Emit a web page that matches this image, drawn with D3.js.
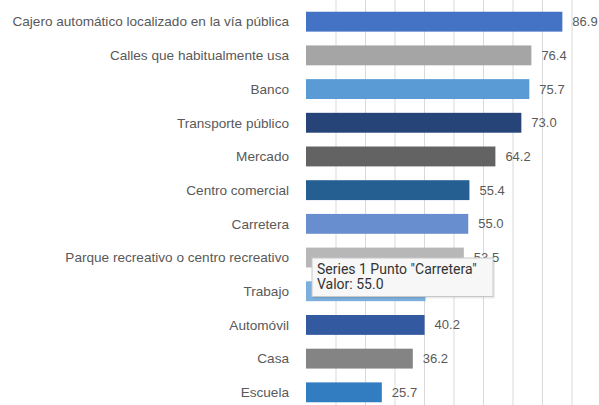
<!DOCTYPE html>
<html><head><meta charset="utf-8">
<script src="https://cdn.jsdelivr.net/npm/d3@7/dist/d3.min.js"></script>
<style>
body{margin:0;background:#fff;}
svg{display:block;font-family:"Liberation Sans",Arial,sans-serif;}
</style></head>
<body><svg id="c" width="599" height="405"></svg>
<script>
const categories = ["Cajero automático localizado en la vía pública","Calles que habitualmente usa","Banco","Transporte público","Mercado","Centro comercial","Carretera","Parque recreativo o centro recreativo","Trabajo","Automóvil","Casa","Escuela"];
const values = [86.9,76.4,75.7,73.0,64.2,55.4,55.0,53.5,40.5,40.2,36.2,25.7];
const barColors = ["#4472C4","#A5A5A5","#5B9BD5","#264478","#636363","#255E91","#698ED0","#B7B7B7","#7CAFDD","#335AA1","#848484","#327DC2"];
const gridTicks = [10,20,30,40,50,60,70,80,90];
const tooltipLines = ["Series 1 Punto \"Carretera\"","Valor: 55.0"];

const svg = d3.select("#c");
const x = d3.scaleLinear().domain([0,100]).range([306,601]);
const y = d3.scaleBand().domain(categories).range([5,409]).paddingInner(0.41).paddingOuter(0.2);

svg.append("g").selectAll("line").data(gridTicks).join("line")
  .attr("x1",d=>x(d)+0.5).attr("x2",d=>x(d)+0.5).attr("y1",0).attr("y2",405)
  .attr("stroke","#d9d9d9").attr("stroke-width",1);

svg.append("g").selectAll("rect").data(values).join("rect")
  .attr("x",x(0)).attr("y",(d,i)=>y(categories[i]))
  .attr("width",d=>x(d)-x(0)).attr("height",y.bandwidth())
  .attr("fill",(d,i)=>barColors[i]);

svg.append("g").selectAll("text").data(categories).join("text")
  .attr("x",289).attr("y",d=>y(d)+y.bandwidth()/2).attr("dy","0.35em")
  .attr("text-anchor","end").attr("font-size",13.6).attr("fill","#595959").text(d=>d);

svg.append("g").selectAll("text").data(values).join("text")
  .attr("x",d=>x(d)+10).attr("y",(d,i)=>y(categories[i])+y.bandwidth()/2).attr("dy","0.35em")
  .attr("font-size",13).attr("fill","#595959").text(d=>d.toFixed(1));

// tooltip overlay
const tt = svg.append("g").attr("transform","translate(312,258)");
tt.append("rect").attr("x",1).attr("y",1.5).attr("width",182).attr("height",39).attr("fill","#000").attr("opacity",0.08);
tt.append("rect").attr("width",181).attr("height",38.5).attr("fill","#f7f7f7").attr("stroke","#c8c8c8");
tt.selectAll("text").data(tooltipLines).join("text")
  .attr("x",5).attr("y",(d,i)=>15.5+i*15.5).attr("font-size",14).attr("fill","#333")
  .style("font-family","Roboto, 'Liberation Sans', sans-serif").text(d=>d);
</script></body></html>
